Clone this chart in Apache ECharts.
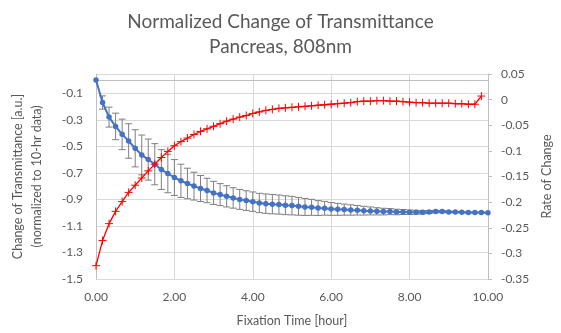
<!DOCTYPE html>
<html><head><meta charset="utf-8">
<script src="https://cdn.jsdelivr.net/npm/echarts@6/dist/echarts.min.js"></script>
<style>html,body{margin:0;padding:0;background:#fff}#c{width:561px;height:333px}</style>
</head><body><div id="c"></div>
<script>
const blueTimes = [0,0.167,0.333,0.5,0.667,0.833,1,1.167,1.333,1.5,1.667,1.833,2,2.167,2.333,2.5,2.667,2.833,3,3.167,3.333,3.5,3.667,3.833,4,4.167,4.333,4.5,4.667,4.833,5,5.167,5.333,5.5,5.667,5.833,6,6.167,6.333,6.5,6.667,6.833,7,7.167,7.333,7.5,7.667,7.833,8,8.167,8.333,8.5,8.667,8.833,9,9.167,9.333,9.5,9.667,9.833,10];
const blueValues = [0,-0.17,-0.28,-0.35,-0.41,-0.46,-0.515,-0.565,-0.60,-0.635,-0.675,-0.705,-0.735,-0.76,-0.78,-0.80,-0.818,-0.833,-0.851,-0.864,-0.877,-0.889,-0.90,-0.909,-0.917,-0.927,-0.932,-0.936,-0.939,-0.944,-0.947,-0.952,-0.957,-0.960,-0.965,-0.967,-0.972,-0.975,-0.977,-0.980,-0.982,-0.985,-0.987,-0.990,-0.992,-0.992,-0.995,-0.995,-0.997,-0.997,-0.997,-0.995,-0.992,-0.992,-0.995,-0.995,-0.997,-0.998,-0.999,-0.999,-1.0];
const blueErrors = [0,0.05,0.075,0.1,0.115,0.13,0.14,0.15,0.155,0.155,0.15,0.145,0.135,0.125,0.115,0.105,0.098,0.092,0.087,0.083,0.08,0.077,0.075,0.074,0.073,0.073,0.073,0.073,0.072,0.071,0.07,0.067,0.064,0.06,0.056,0.052,0.048,0.045,0.042,0.039,0.036,0.033,0.03,0.027,0.025,0.023,0.021,0.019,0.017,0.015,0.013,0.011,0.009,0.007,0.006,0.005,0.004,0.003,0.002,0.001,0];
const redTimes = [0,0.167,0.333,0.5,0.667,0.833,1,1.167,1.333,1.5,1.667,1.833,2,2.167,2.333,2.5,2.667,2.833,3,3.167,3.333,3.5,3.667,3.833,4,4.167,4.333,4.5,4.667,4.833,5,5.167,5.333,5.5,5.667,5.833,6,6.167,6.333,6.5,6.667,6.833,7,7.167,7.333,7.5,7.667,7.833,8,8.167,8.333,8.5,8.667,8.833,9,9.167,9.333,9.5,9.667,9.833];
const redValues = [-0.324,-0.275,-0.242,-0.218,-0.199,-0.181,-0.167,-0.153,-0.139,-0.126,-0.113,-0.101,-0.090,-0.082,-0.075,-0.068,-0.062,-0.057,-0.052,-0.047,-0.042,-0.038,-0.034,-0.031,-0.027,-0.024,-0.021,-0.019,-0.017,-0.016,-0.015,-0.014,-0.013,-0.012,-0.011,-0.010,-0.009,-0.008,-0.007,-0.006,-0.004,-0.003,-0.003,-0.002,-0.002,-0.003,-0.003,-0.004,-0.005,-0.006,-0.006,-0.007,-0.007,-0.007,-0.007,-0.008,-0.008,-0.009,-0.009,0.007];

const titleText = 'Normalized Change of Transmittance\nPancreas, 808nm';
const leftAxisName = 'Change of Transmittance [a.u.]\n(normalized to 10-hr data)';
const rightAxisName = 'Rate of Change';
const xAxisName = 'Fixation Time [hour]';

const FONT = 'Lato, "Open Sans", sans-serif';
const TXT = '#595959';
const GRID = '#d9d9d9';

const chart = echarts.init(document.getElementById('c'), null, {renderer:'canvas'});
const blueData = blueTimes.map((t,i)=>[t, blueValues[i]]);
const errData = blueTimes.map((t,i)=>[t, blueValues[i], blueErrors[i]]);
const redData = redTimes.map((t,i)=>[t, redValues[i]]);

chart.setOption({
  animation:false,
  backgroundColor:'#fff',
  title:{text:titleText,left:'center',top:4,textStyle:{fontFamily:FONT,fontSize:19,fontWeight:'normal',color:TXT,lineHeight:25}},
  grid:{left:96,right:68,top:74,bottom:54,containLabel:false},
  xAxis:{type:'value',min:0,max:10,interval:2,
    name:xAxisName,nameLocation:'middle',nameGap:35,
    nameTextStyle:{fontFamily:FONT,fontSize:12.5,color:TXT},
    axisLine:{show:true,lineStyle:{color:'#bfbfbf'}},axisTick:{show:false},
    axisLabel:{fontFamily:FONT,fontSize:12,color:TXT,margin:12,formatter:v=>v.toFixed(2)},
    splitLine:{show:true,lineStyle:{color:GRID,width:1}}},
  yAxis:[
    {type:'value',min:-1.5,max:0.045,interval:0.2,position:'left',
      name:leftAxisName,nameLocation:'middle',nameRotate:90,nameGap:50,
      nameTextStyle:{fontFamily:FONT,fontSize:12.5,color:TXT,lineHeight:19},
      axisLine:{show:true,lineStyle:{color:'#bfbfbf'}},axisTick:{show:false},
      axisLabel:{fontFamily:FONT,fontSize:12,color:TXT,margin:13,showMaxLabel:false,formatter:v=>String(Math.round(v*10)/10)},
      splitLine:{show:true,lineStyle:{color:GRID,width:1}}},
    {type:'value',min:-0.35,max:0.05,interval:0.05,position:'right',
      name:rightAxisName,nameLocation:'middle',nameRotate:90,nameGap:50,
      nameTextStyle:{fontFamily:FONT,fontSize:12.5,color:TXT},
      axisLine:{show:true,lineStyle:{color:'#bfbfbf'}},
      axisTick:{show:true,inside:false,length:4,lineStyle:{color:'#bfbfbf'}},
      axisLabel:{fontFamily:FONT,fontSize:12,color:TXT,margin:13,formatter:v=>String(Math.round(v*100)/100)},
      splitLine:{show:false}}
  ],
  series:[
    {type:'custom',yAxisIndex:0,z:2,data:errData,
      renderItem:function(params,api){
        const x=api.value(0),y=api.value(1),e=api.value(2);
        if(!e) return {type:'group',children:[]};
        const hi=api.coord([x,y+e]),lo=api.coord([x,y-e]);
        const w=3.5, st={stroke:'#7f7f7f',lineWidth:1};
        return {type:'group',children:[
          {type:'line',shape:{x1:hi[0],y1:hi[1],x2:lo[0],y2:lo[1]},style:st},
          {type:'line',shape:{x1:hi[0]-w,y1:hi[1],x2:hi[0]+w,y2:hi[1]},style:st},
          {type:'line',shape:{x1:lo[0]-w,y1:lo[1],x2:lo[0]+w,y2:lo[1]},style:st}
        ]};
      }},
    {type:'line',yAxisIndex:0,z:3,data:blueData,symbol:'circle',symbolSize:5.5,showSymbol:true,
      lineStyle:{color:'#4472C4',width:2},itemStyle:{color:'#4472C4',borderWidth:0}},
    {type:'line',yAxisIndex:1,z:4,data:redData,symbol:'path://M0,5L10,5M5,0L5,10',symbolSize:8,showSymbol:true,
      lineStyle:{color:'#FF0000',width:1.3},itemStyle:{color:'#FF0000',borderColor:'#FF0000',borderWidth:1}}
  ]
});
</script></body></html>
